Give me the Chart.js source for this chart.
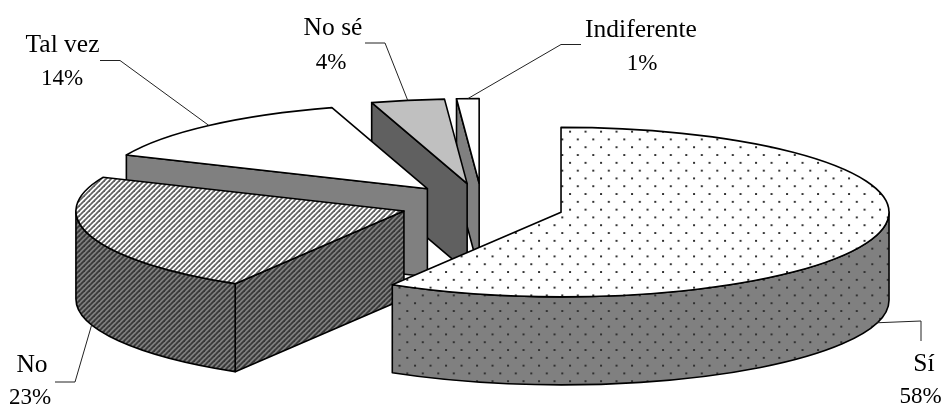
<!DOCTYPE html>
<html>
<head>
<meta charset="utf-8">
<script src="https://cdn.jsdelivr.net/npm/chart.js@4"></script>
<style>
  html, body { margin: 0; padding: 0; background: #fff; overflow: hidden; }
  canvas { display: block; }
</style>
</head>
<body>
<canvas id="pie" width="943" height="406"></canvas>
<script>
const categories = ['Sí', 'No', 'Tal vez', 'No sé', 'Indiferente'];
const shares = [58.6, 22.9, 13.8, 3.6, 1.1];
const shareLabels = ['58%', '23%', '14%', '4%', '1%'];

// look of the 3d pie
const radius = 328;
const squash = 85 / 329;
const depth = 88;
const explode = 82;
const sliceNudgeY = [2, 0, 0, 0, 0];

// label layout: text centre, name baseline, percent centre, percent baseline, leader elbow
const labelX = [924, 32, 62.5, 333, 641];
const labelY = [371, 372, 52, 35, 37];
const pctX = [920.5, 30, 62, 331, 642];
const pctY = [403, 404, 85, 69, 70];
const leaderFrom = [[921, 341], [55, 382], [100, 60.5], [365, 43], [581, 44.5]];
const leaderElbow = [[921, 321], [75, 382], [120, 60.5], [385, 43], [561, 44.5]];

function makeTile(w, h, paint) {
  const c = document.createElement('canvas');
  c.width = w;
  c.height = h;
  paint(c.getContext('2d'));
  return c;
}

function hatchTile(bg, fg, lw) {
  return makeTile(5, 5, (g) => {
    g.fillStyle = bg;
    g.fillRect(0, 0, 5, 5);
    g.strokeStyle = fg;
    g.lineWidth = lw;
    for (let i = -5; i <= 5; i += 5) {
      g.beginPath();
      g.moveTo(i - 1, 6);
      g.lineTo(i + 6, -1);
      g.stroke();
    }
  });
}

function dotTile(bg, fg) {
  return makeTile(31, 16, (g) => {
    g.fillStyle = bg;
    g.fillRect(0, 0, 31, 16);
    g.fillStyle = fg;
    g.fillRect(3, 3, 2, 2);
    g.fillRect(18.5, 3, 2, 2);
    g.fillRect(10.75, 11, 2, 2);
    g.fillRect(26.25, 11, 2, 2);
  });
}

const scratch = document.getElementById('pie').getContext('2d');

// textures are pinned to the page, the dot lattice runs on from top to rim
const dotAnchor = new DOMMatrix().translate(566, 127.7).scale(1, 0.975);
const hatchAnchor = new DOMMatrix();

const topColors = [
  scratch.createPattern(dotTile('#ffffff', '#303030'), 'repeat'),
  scratch.createPattern(hatchTile('#ffffff', '#606060', 1.8), 'repeat'),
  '#ffffff',
  '#c0c0c0',
  '#ffffff'
];
const sideColors = [
  scratch.createPattern(dotTile('#808080', '#303030'), 'repeat'),
  scratch.createPattern(hatchTile('#808080', '#383838', 1.8), 'repeat'),
  '#808080',
  '#606060',
  '#808080'
];
const anchors = [dotAnchor, hatchAnchor, null, null, null];

sideColors.forEach((c, i) => {
  if (anchors[i]) c.setTransform(anchors[i]);
});

const pie3d = {
  id: 'pie3d',
  beforeDatasetsDraw(chart) {
    const ctx = chart.ctx;
    const arcs = chart.getDatasetMeta(0).data;

    // back slices first, Sí goes on top
    for (let i = arcs.length - 1; i >= 0; i--) {
      const arc = arcs[i];
      const mid = (arc.startAngle + arc.endAngle) / 2;
      const dx = Math.cos(mid) * explode;
      const dy = Math.sin(mid) * explode;
      const ax = arc.x + dx;
      const ay = arc.y + dy * squash + sliceNudgeY[i];
      const r = arc.outerRadius;
      const s = arc.startAngle;
      const e = arc.endAngle;
      const px = (a) => ax + r * Math.cos(a);
      const py = (a) => ay + r * squash * Math.sin(a);

      ctx.save();
      ctx.lineWidth = 1.6;
      ctx.strokeStyle = '#000';
      ctx.lineJoin = 'round';
      ctx.fillStyle = sideColors[i];

      // cut faces, only the ones turned to the viewer
      [[s, Math.cos(s) < -1e-6], [e, Math.cos(e) > 1e-6]].forEach(([a, visible]) => {
        if (!visible) return;
        ctx.beginPath();
        ctx.moveTo(ax, ay);
        ctx.lineTo(px(a), py(a));
        ctx.lineTo(px(a), py(a) + depth);
        ctx.lineTo(ax, ay + depth);
        ctx.closePath();
        ctx.fill();
        ctx.stroke();
      });

      // rim, front half only
      const a0 = Math.max(s, 0);
      const a1 = Math.min(e, Math.PI);
      if (a1 > a0) {
        ctx.beginPath();
        ctx.ellipse(ax, ay, r, r * squash, 0, a0, a1);
        ctx.ellipse(ax, ay + depth, r, r * squash, 0, a1, a0, true);
        ctx.closePath();
        ctx.fill();
        ctx.stroke();
      }

      // top face is the chart's own arc element under a squashed transform
      ctx.save();
      ctx.translate(ax, ay);
      ctx.scale(1, squash);
      ctx.translate(-arc.x, -arc.y);
      if (anchors[i]) {
        topColors[i].setTransform(ctx.getTransform().inverse().multiply(anchors[i]));
      }
      arc.draw(ctx);
      ctx.restore();

      ctx.beginPath();
      ctx.moveTo(ax, ay);
      ctx.lineTo(px(s), py(s));
      ctx.ellipse(ax, ay, r, r * squash, 0, s, e);
      ctx.closePath();
      ctx.stroke();
      ctx.restore();
    }

    // leaders and labels
    ctx.save();
    ctx.textAlign = 'center';
    ctx.textBaseline = 'alphabetic';
    arcs.forEach((arc, i) => {
      const mid = (arc.startAngle + arc.endAngle) / 2;
      const ax = arc.x + Math.cos(mid) * explode;
      const ay = arc.y + Math.sin(mid) * explode * squash + sliceNudgeY[i];
      const ex = ax + arc.outerRadius * Math.cos(mid);
      const front = Math.sin(mid) > 0 ? depth : 0;
      const ey = ay + arc.outerRadius * squash * Math.sin(mid) + front;

      ctx.strokeStyle = '#222';
      ctx.lineWidth = 1;
      ctx.beginPath();
      ctx.moveTo(leaderFrom[i][0], leaderFrom[i][1]);
      ctx.lineTo(leaderElbow[i][0], leaderElbow[i][1]);
      ctx.lineTo(ex, ey);
      ctx.stroke();

      ctx.fillStyle = '#000';
      ctx.font = '25.5px "Liberation Serif"';
      ctx.fillText(categories[i], labelX[i], labelY[i]);
      ctx.font = '23px "Liberation Serif"';
      ctx.fillText(shareLabels[i], pctX[i], pctY[i]);
    });
    ctx.restore();
    return false;
  }
};

new Chart(document.getElementById('pie'), {
  type: 'pie',
  data: {
    labels: categories,
    datasets: [{
      data: shares,
      backgroundColor: topColors,
      borderWidth: 0,
      radius: radius,
      clip: false
    }]
  },
  options: {
    responsive: false,
    animation: false,
    layout: { padding: { left: 21, top: 3 } },
    plugins: {
      legend: { display: false },
      tooltip: { enabled: false }
    }
  },
  plugins: [pie3d]
});
</script>
</body>
</html>
